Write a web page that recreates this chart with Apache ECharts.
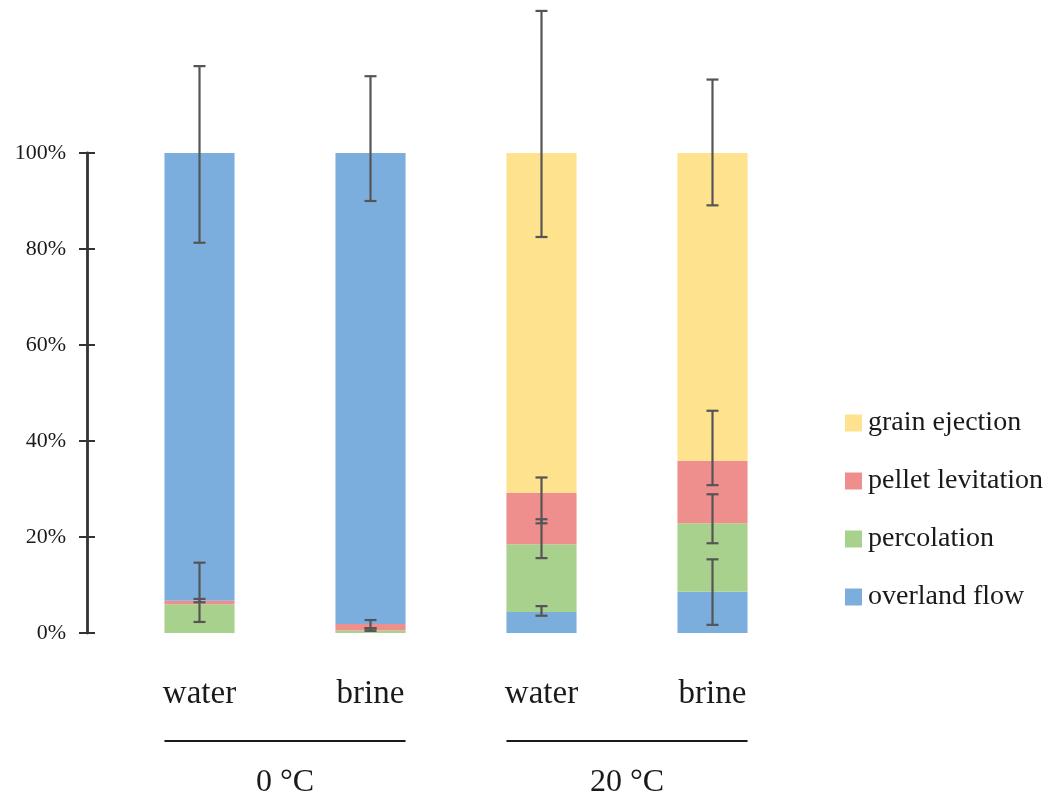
<!DOCTYPE html>
<html>
<head>
<meta charset="utf-8">
<title>Runoff pathways by liquid and temperature</title>
<script src="https://cdn.jsdelivr.net/npm/echarts@6/dist/echarts.min.js"></script>
<style>
  html, body { margin: 0; padding: 0; background: #fff; }
  #chart { width: 1050px; height: 796px; }
</style>
</head>
<body>
<div id="chart"></div>
<script>
// Samples: liquid type within each temperature group
const liquids = ['water', 'brine', 'water', 'brine'];
const temperatures = ['0 °C', '0 °C', '20 °C', '20 °C'];
const yTicks = ['0%', '20%', '40%', '60%', '80%', '100%'];

// Share of each mechanism (%), one value per sample
const grainEjection    = [0,    0,    70.8, 64.1];
const pelletLevitation = [0.7,  1.4,  10.7, 13.05];
const percolation      = [6.0,  0.5,  14.1, 14.25];
const overlandFlow     = [93.3, 98.1, 4.4,  8.6];

// Error bar extents [low, high] in cumulative %, null where none is drawn
const errGrainEjection    = [null, null, [82.5, 129.6], [89.1, 115.3]];
const errPelletLevitation = [[6.4, 14.65], [1.0, 2.7], [22.85, 32.4], [30.8, 46.3]];
const errPercolation      = [[2.3, 7.1], [0.45, 0.95], [15.6, 23.7], [18.7, 28.9]];
const errOverlandFlow     = [[81.3, 118.1], [90.0, 116.0], [3.6, 5.6], [1.7, 15.35]];

const colors = {
  grain: '#FEE28D',
  pellet: '#EE8F8D',
  perc: '#A9D18E',
  overland: '#7CAEDD'
};
const FONT = "'Liberation Serif', 'Times New Roman', serif";

// At 0 °C overland flow sits on top of the stack, at 20 °C it forms the base
const overlandOnTop = temperatures.map(t => t === '0 °C');
const overlandBase = overlandFlow.map((v, i) => overlandOnTop[i] ? 0 : v);
const overlandTop  = overlandFlow.map((v, i) => overlandOnTop[i] ? v : 0);

const categoryIds = liquids.map((l, i) => temperatures[i] + ' ' + l);

function barSeries(name, data, color) {
  return {
    name: name,
    type: 'bar',
    stack: 'total',
    data: data,
    barWidth: '41%',
    itemStyle: { color: color },
    emphasis: { disabled: true },
    silent: true
  };
}

function errorData(list) {
  const out = [];
  list.forEach((e, i) => { if (e) out.push([i, e[0], e[1]]); });
  return out;
}

const errorSeries = {
  type: 'custom',
  silent: true,
  z: 10,
  clip: false,
  data: [].concat(
    errorData(errGrainEjection),
    errorData(errPelletLevitation),
    errorData(errPercolation),
    errorData(errOverlandFlow)
  ),
  renderItem: function (params, api) {
    const lo = api.coord([api.value(0), api.value(1)]);
    const hi = api.coord([api.value(0), api.value(2)]);
    const x = lo[0];
    const cap = 6;
    const style = { stroke: '#555555', lineWidth: 2.2 };
    return {
      type: 'group',
      children: [
        { type: 'line', shape: { x1: x, y1: lo[1], x2: x, y2: hi[1] }, style: style },
        { type: 'line', shape: { x1: x - cap, y1: lo[1], x2: x + cap, y2: lo[1] }, style: style },
        { type: 'line', shape: { x1: x - cap, y1: hi[1], x2: x + cap, y2: hi[1] }, style: style }
      ]
    };
  }
};

const chart = echarts.init(document.getElementById('chart'), null, { renderer: 'canvas' });

const yCommon = {
  type: 'value',
  min: 0,
  max: 100,
  interval: 20,
  position: 'left',
  offset: 27,
  splitLine: { show: false }
};

chart.setOption({
  animation: false,
  backgroundColor: '#ffffff',
  grid: { left: 114, right: 252, top: 153, bottom: 163, containLabel: false },
  legend: {
    orient: 'vertical',
    left: 840,
    top: 403,
    itemWidth: 17,
    itemHeight: 17,
    itemGap: 28,
    icon: 'rect',
    selectedMode: false,
    textStyle: { fontFamily: FONT, fontSize: 28, color: '#1a1a1a', lineHeight: 30, padding: [0, 0, 0, 1] },
    data: ['grain ejection', 'pellet levitation', 'percolation', 'overland flow']
  },
  xAxis: {
    type: 'category',
    data: categoryIds,
    axisLine: { show: false },
    axisTick: { show: false },
    axisLabel: {
      interval: 0,
      margin: 45,
      fontFamily: FONT,
      fontSize: 33,
      color: '#1a1a1a',
      formatter: (v, idx) => liquids[idx]
    }
  },
  yAxis: [
    Object.assign({}, yCommon, {
      axisLine: { show: true, lineStyle: { color: '#333333', width: 2.8 } },
      axisTick: { show: true, length: 8, lineStyle: { color: '#333333', width: 2 } },
      axisLabel: {
        margin: 21,
        fontFamily: FONT,
        fontSize: 22,
        color: '#1a1a1a',
        formatter: (v) => yTicks[Math.round(v / 20)]
      }
    }),
    Object.assign({}, yCommon, {
      axisLine: { show: false },
      axisTick: { show: true, inside: true, length: 8, lineStyle: { color: '#333333', width: 2 } },
      axisLabel: { show: false }
    })
  ],
  series: [
    barSeries('overland flow', overlandBase, colors.overland),
    barSeries('percolation', percolation, colors.perc),
    barSeries('pellet levitation', pelletLevitation, colors.pellet),
    barSeries('grain ejection', grainEjection, colors.grain),
    barSeries('overland flow', overlandTop, colors.overland),
    errorSeries
  ]
});

// Temperature group brackets under the liquid labels
function drawGroups() {
  const bandPx = chart.convertToPixel({ xAxisIndex: 0 }, 1) - chart.convertToPixel({ xAxisIndex: 0 }, 0);
  const halfBar = bandPx * 0.41 / 2;
  const zeroY = chart.convertToPixel({ yAxisIndex: 0 }, 0);
  const groups = [];
  temperatures.forEach((t, i) => {
    let g = groups.find(x => x.name === t);
    if (!g) { g = { name: t, idx: [] }; groups.push(g); }
    g.idx.push(i);
  });
  const elements = [];
  groups.forEach(g => {
    const x1 = chart.convertToPixel({ xAxisIndex: 0 }, g.idx[0]) - halfBar;
    const x2 = chart.convertToPixel({ xAxisIndex: 0 }, g.idx[g.idx.length - 1]) + halfBar;
    elements.push({
      type: 'line',
      shape: { x1: x1, y1: zeroY + 108, x2: x2, y2: zeroY + 108 },
      style: { stroke: '#1a1a1a', lineWidth: 2 },
      silent: true
    });
    elements.push({
      type: 'text',
      x: (x1 + x2) / 2,
      y: zeroY + 150,
      style: {
        text: g.name,
        fontFamily: FONT,
        fontSize: 32,
        fill: '#1a1a1a',
        align: 'center',
        verticalAlign: 'middle'
      },
      silent: true
    });
  });
  chart.setOption({ graphic: { elements: elements } });
}
drawGroups();
</script>
</body>
</html>
